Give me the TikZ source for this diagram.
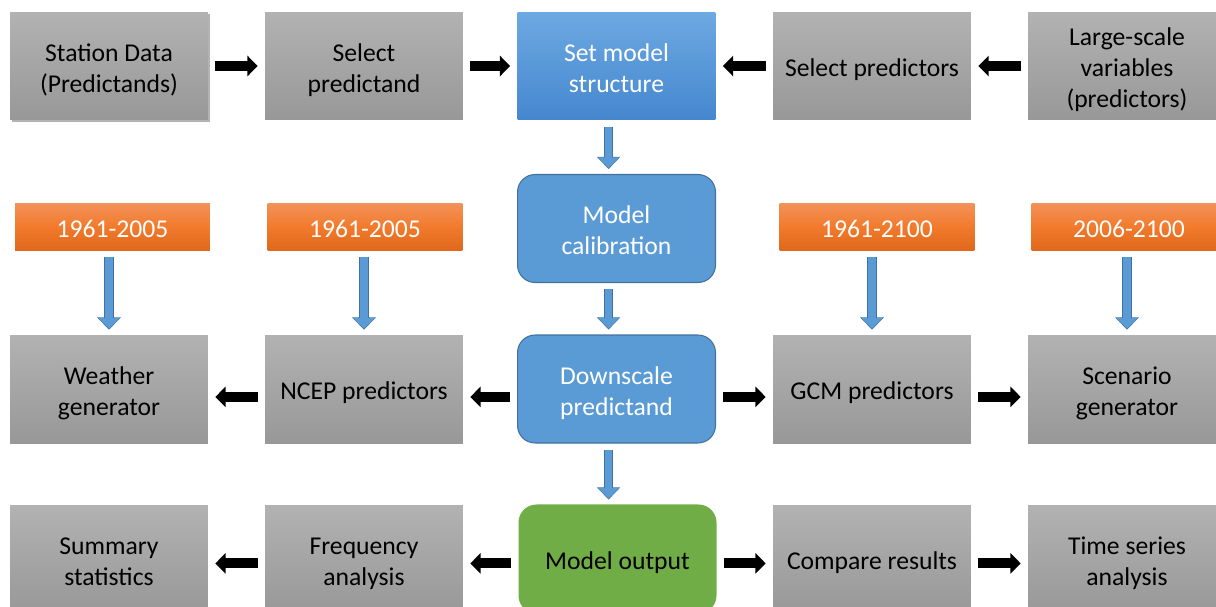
\documentclass[tikz,border=0pt]{standalone}
\usepackage{fontspec}
\setmainfont{Carlito}
\usetikzlibrary{arrows.meta,shadows}

\definecolor{grayTop}{HTML}{B2B2B2}
\definecolor{grayBot}{HTML}{989898}
\definecolor{blueTop}{HTML}{6DA9E2}
\definecolor{blueBot}{HTML}{4587CF}
\definecolor{blueFill}{HTML}{5B9BD5}
\definecolor{blueEdge}{HTML}{41719C}
\definecolor{orangeTop}{HTML}{F2925A}
\definecolor{orangeMid}{HTML}{F27A2C}
\definecolor{orangeBot}{HTML}{E0681C}
\definecolor{greenFill}{HTML}{70AD47}

% lines of a box, set a little low as in the slide
\newcommand\boxlines[1]{\raisebox{-2.6pt}[\height][\depth]{\begin{tabular}{@{}c@{}}#1\end{tabular}}}

\begin{document}
\begin{tikzpicture}[x=0.02cm,y=-0.02cm,
    every node/.style={font=\fontsize{14.6}{17.6}\selectfont,
        minimum width=3.96cm, minimum height=2.16cm, inner sep=0pt},
    graybox/.style={top color=grayTop, bottom color=grayBot, text=black},
    bluebox/.style={top color=blueTop, bottom color=blueBot, text=white},
    roundbox/.style={rounded corners=10pt, fill=blueFill, draw=blueEdge, line width=0.6pt, text=white},
    yearbox/.style={minimum width=3.9cm, minimum height=0.94cm, text=white,
        top color=orangeTop, bottom color=orangeBot, middle color=orangeMid},
    blk/.style={line width=5.7pt, -{Triangle[width=11.4pt,length=5.8pt]},
        shorten <=4pt, shorten >=4pt},
    blu/.style={draw=blueFill, line width=4.2pt,
        -{Triangle[width=11.5pt,length=6pt,color=blueFill]}, shorten <=3.6pt, shorten >=3.4pt,
        preaction={draw=blueEdge, line width=5.4pt,
            -{Triangle[width=13pt,length=7pt,color=blueEdge]}, shorten <=3.6pt, shorten >=2.8pt}}]
\useasboundingbox (0,0) rectangle (1216,606);

% first row
\node[graybox, drop shadow={shadow xshift=1pt, shadow yshift=-1pt, opacity=0.6}] (station) at (109,66) {\boxlines{Station Data\\(Predictands)}};
\node[graybox] (selpd) at (364,66) {\boxlines{Select\\predictand}};
\node[bluebox] (setm) at (616.5,66) {\boxlines{Set model\\structure}};
\node[graybox] (selpr) at (872,66) {\boxlines{Select predictors}};
\node[graybox] (large) at (1127,66) {\boxlines{Large-scale\\variables\\(predictors)}};

% periods and calibration
\node[yearbox] (y1) at (112.5,226.5) {\boxlines{1961-2005}};
\node[yearbox] (y2) at (365,226.5) {\boxlines{1961-2005}};
\node[roundbox] (calib) at (616.5,228.5) {\boxlines{Model\\calibration}};
\node[yearbox] (y3) at (877,226.5) {\boxlines{1961-2100}};
\node[yearbox] (y4) at (1129,226.5) {\boxlines{2006-2100}};

% downscaling row
\node[graybox] (weather) at (109,389) {\boxlines{Weather\\generator}};
\node[graybox] (ncep) at (364,389) {\boxlines{NCEP predictors}};
\node[roundbox] (down) at (616.5,389) {\boxlines{Downscale\\predictand}};
\node[graybox] (gcm) at (872,389) {\boxlines{GCM predictors}};
\node[graybox] (scen) at (1127,389) {\boxlines{Scenario\\generator}};

% output row
\node[graybox] (summ) at (109,559) {\boxlines{Summary\\statistics}};
\node[graybox] (freq) at (364,559) {\boxlines{Frequency\\analysis}};
\node[roundbox, fill=greenFill, draw=greenFill, text=black, minimum width=3.94cm] (out) at (617.5,559) {\boxlines{Model output}};
\node[graybox] (comp) at (872,559) {\boxlines{Compare results}};
\node[graybox] (tser) at (1127,559) {\boxlines{Time series\\analysis}};

% black arrows
\draw[blk] (station) -- (selpd);
\draw[blk] (selpd) -- (setm);
\draw[blk] (selpr) -- (setm);
\draw[blk] (large) -- (selpr);
\begin{scope}[transform canvas={yshift=-4.5pt}]
    \draw[blk] (ncep) -- (weather);
    \draw[blk] (down) -- (ncep);
    \draw[blk] (down) -- (gcm);
    \draw[blk] (gcm) -- (scen);
\end{scope}
\begin{scope}[transform canvas={yshift=-2.5pt}]
    \draw[blk] (freq) -- (summ);
    \draw[blk] (out) -- (freq);
    \draw[blk] (out) -- (comp);
    \draw[blk] (comp) -- (tser);
\end{scope}

% blue arrows
\draw[blu] ([xshift=-4.5pt]setm.south) -- ([xshift=-4.5pt]calib.north);
\draw[blu] ([xshift=-4.5pt]calib.south) -- ([xshift=-4.5pt]down.north);
\draw[blu] ([xshift=-4.5pt]down.south) -- ([xshift=-4.5pt]down.south |- out.north);
\draw[blu] (y1.south -| weather.north) -- (weather.north);
\draw[blu] (y2.south -| ncep.north) -- (ncep.north);
\draw[blu] (y3.south -| gcm.north) -- (gcm.north);
\draw[blu] (y4.south -| scen.north) -- (scen.north);
\end{tikzpicture}
\end{document}
